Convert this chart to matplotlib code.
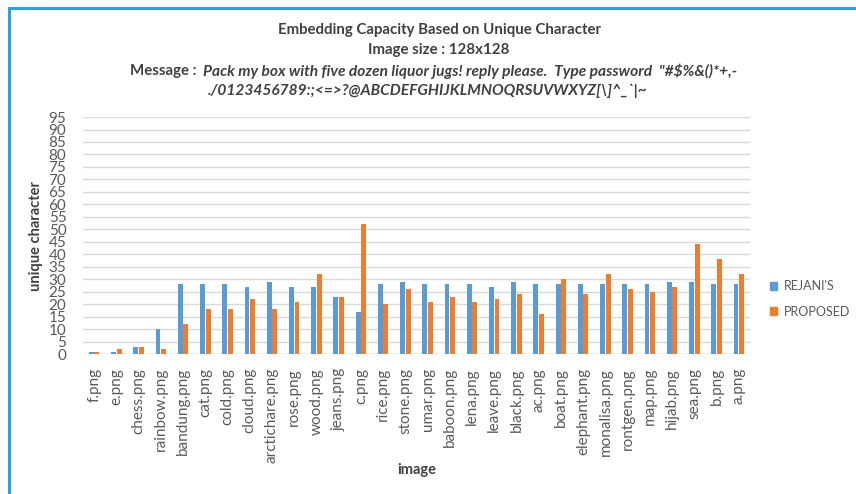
import matplotlib.pyplot as plt
import numpy as np
from matplotlib.patches import Patch

images = ["f.png", "e.png", "chess.png", "rainbow.png", "bandung.png", "cat.png",
          "cold.png", "cloud.png", "arctichare.png", "rose.png", "wood.png",
          "jeans.png", "c.png", "rice.png", "stone.png", "umar.png", "baboon.png",
          "lena.png", "leave.png", "black.png", "ac.png", "boat.png",
          "elephant.png", "monalisa.png", "rontgen.png", "map.png", "hijab.png",
          "sea.png", "b.png", "a.png"]
rejani = [1, 1, 3, 10, 28, 28, 28, 27, 29, 27, 27, 23, 17, 28, 29, 28, 28,
          28, 27, 29, 28, 28, 28, 28, 28, 28, 29, 29, 28, 28]
proposed = [1, 2, 3, 2, 12, 18, 18, 22, 18, 21, 32, 23, 52, 20, 26, 21, 23,
            21, 22, 24, 16, 30, 24, 32, 26, 25, 27, 44, 38, 32]

plt.rcParams['font.family'] = ['Lato', 'DejaVu Sans']

fig = plt.figure(figsize=(8.56, 4.94), dpi=100)
ax = fig.add_axes([0.097, 0.2834, 0.779, 0.4797])

x = np.arange(len(images))
w = 0.22
ax.bar(x - 0.125, rejani, w, color="#5B9BD5", label="REJANI'S", zorder=3)
ax.bar(x + 0.125, proposed, w, color="#ED7D31", label="PROPOSED", zorder=3)

ax.set_xlim(-0.5, len(images) - 0.5)
ax.set_ylim(0, 95)
ax.set_yticks(range(0, 100, 5))
ax.yaxis.grid(True, color="#D9D9D9", linewidth=1, zorder=0)
for s in ax.spines.values():
    s.set_visible(False)
ax.axhline(0, color="#D9D9D9", linewidth=1, zorder=2)
ax.tick_params(length=0)
ax.tick_params(axis="y", labelsize=11, colors="#595959", pad=12)
ax.set_xticks(x)
ax.set_xticklabels(images, rotation=90, fontsize=11, color="#595959")
ax.tick_params(axis="x", pad=10)

ax.set_ylabel("unique character", fontsize=10.5, fontweight="bold", color="#404040", labelpad=4)
ax.set_xlabel("image", fontsize=10.5, fontweight="bold", color="#404040", labelpad=0)

fig.text(0.513, 0.94, "Embedding Capacity Based on Unique Character",
         ha="center", va="center", fontsize=10.8, fontweight="bold", color="#404040")
fig.text(0.513, 0.898, "Image size : 128x128",
         ha="center", va="center", fontsize=10.8, fontweight="bold", color="#404040")
fig.text(0.152, 0.856, "Message :  ", ha="left", va="center",
         fontsize=10.8, fontweight="bold", color="#404040")
fig.text(0.237, 0.856,
         "Pack my box with five dozen liquor jugs! reply please.  Type password  \"#$%&()*+,-",
         ha="left", va="center", fontsize=11.2, fontweight="bold", style="italic", color="#404040")
fig.text(0.5, 0.816, "./0123456789:;<=>?@ABCDEFGHIJKLMNOQRSUVWXYZ[\\]^_`|~",
         ha="center", va="center", fontsize=11.2, fontweight="bold", style="italic", color="#404040")

handles = [Patch(color="#5B9BD5", label="REJANI'S"), Patch(color="#ED7D31", label="PROPOSED")]
fig.legend(handles=handles, loc="center left", bbox_to_anchor=(0.886, 0.395),
           frameon=False, fontsize=9, handlelength=0.6, handleheight=0.6,
           handletextpad=0.5, labelspacing=1.1, labelcolor="#595959")

# blue frame on top and left edges
fig.add_artist(plt.Line2D([0.0105, 1], [0.983, 0.983], transform=fig.transFigure,
                          color="#29A3E0", linewidth=2.2))
fig.add_artist(plt.Line2D([0.0105, 0.0105], [0, 0.983], transform=fig.transFigure,
                          color="#29A3E0", linewidth=2.2))

fig.savefig("out.png", dpi=100, facecolor="white")
